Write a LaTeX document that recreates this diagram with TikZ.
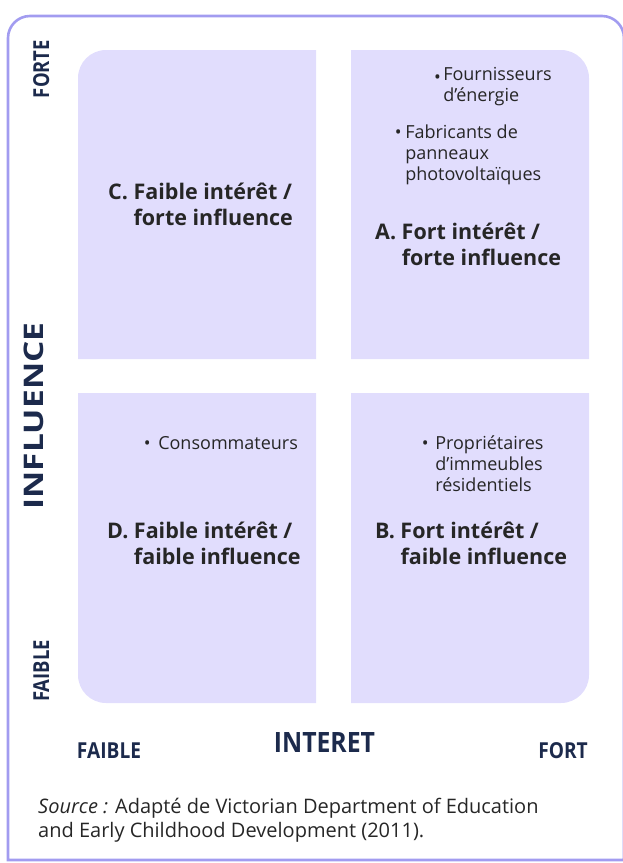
\documentclass[tikz,border=0pt]{standalone}
\usepackage{fontspec}
\setmainfont{Open Sans}
\definecolor{framec}{HTML}{A29CF0}
\definecolor{quadc}{HTML}{E1DDFD}
\definecolor{axisc}{HTML}{1C2A4C}
\definecolor{textc}{HTML}{262626}
\newcommand{\narrow}[2]{\scalebox{#1}[1]{#2}}
\begin{document}
\begin{tikzpicture}[x=1pt,y=-1pt,
  quad/.style={fill=quadc},
  axislbl/.style={text=axisc,font=\fontsize{22}{24}\selectfont\bfseries,inner sep=0pt,anchor=base},
  axistitle/.style={text=axisc,font=\fontsize{28}{30}\selectfont\bfseries,inner sep=0pt,anchor=base},
  qtitle/.style={text=textc,font=\fontsize{21.5}{26}\selectfont\bfseries,inner sep=0pt,anchor=base west},
  qitem/.style={text=textc,font=\fontsize{18}{21}\selectfont,inner sep=0pt,anchor=base west},
  srcnote/.style={text=textc,font=\fontsize{20}{24}\selectfont,inner sep=0pt,anchor=base west}]
\useasboundingbox (0,0) rectangle (622,863);

% outer frame, rounded along the top only
\draw[framec,line width=2.6pt] (8,860) {[rounded corners=22] -- (8,16) -- (624,16) -- (624,200)} -- (624,860) -- cycle;

% the four quadrants, each rounded at its outer corner
\fill[quad] (316,359) -- (316,50) {[rounded corners=28] -- (78,50) -- (78,200)} -- (78,359) -- cycle;
\fill[quad] (351,359) -- (351,50) {[rounded corners=28] -- (589,50) -- (589,200)} -- (589,359) -- cycle;
\fill[quad] (316,393) -- (316,703) {[rounded corners=28] -- (78,703) -- (78,500)} -- (78,393) -- cycle;
\fill[quad] (351,393) -- (351,703) {[rounded corners=28] -- (589,703) -- (589,500)} -- (589,393) -- cycle;

% axis labels
\node[axislbl,rotate=90] (forte) at (49,69) {\narrow{0.84}{FORTE}};
\node[axistitle,font=\fontsize{27}{30}\selectfont\bfseries,rotate=90] (influence) at (43,416) {\narrow{1.24}{INFLUENCE}};
\node[axislbl,rotate=90] (faiblev) at (49,671) {\narrow{0.84}{FAIBLE}};
\node[axislbl] (faibleh) at (109,758) {\narrow{0.87}{FAIBLE}};
\node[axistitle] (interet) at (324.5,752) {\narrow{0.885}{INTERET}};
\node[axislbl] (fort) at (563,758) {\narrow{0.87}{FORT}};

% quadrant titles
\node[qtitle] (qc) at (108,199) {\begin{tabular}[t]{@{}l@{ }l@{}}C.&Faible intérêt /\\&forte influence\end{tabular}};
\node[qtitle] (qa) at (375,239) {\begin{tabular}[t]{@{}l@{ }l@{}}A.&Fort intérêt /\\&forte influence\end{tabular}};
\node[qtitle] (qd) at (107,538) {\begin{tabular}[t]{@{}l@{ }l@{}}D.&Faible intérêt /\\&faible influence\end{tabular}};
\node[qtitle] (qb) at (375,538) {\begin{tabular}[t]{@{}l@{ }l@{}}B.&Fort intérêt /\\&faible influence\end{tabular}};

% stakeholders in each quadrant
\node[qitem] (supply) at (434,80) {\begin{tabular}[t]{@{}l@{\hspace{2.3pt}}l@{}}\raisebox{-3.5pt}{•}&Fournisseurs\\&d’énergie\end{tabular}};
\node[qitem] (makers) at (394.7,138) {\begin{tabular}[t]{@{}l@{\hspace{3.6pt}}l@{}}•&Fabricants de\\&panneaux\\&photovoltaïques\end{tabular}};
\node[qitem] (consumers) at (143.7,449) {\begin{tabular}[t]{@{}l@{\hspace{7.6pt}}l@{}}•&Consommateurs\end{tabular}};
\node[qitem] (owners) at (421.7,449) {\begin{tabular}[t]{@{}l@{\hspace{6.6pt}}l@{}}•&Propriétaires\\&d’immeubles\\&résidentiels\end{tabular}};

% source note
\node[srcnote] (source) at (38,813) {\begin{tabular}[t]{@{}l@{}}\textit{Source :} Adapté de Victorian Department of Education\\and Early Childhood Development (2011).\end{tabular}};
\end{tikzpicture}
\end{document}
